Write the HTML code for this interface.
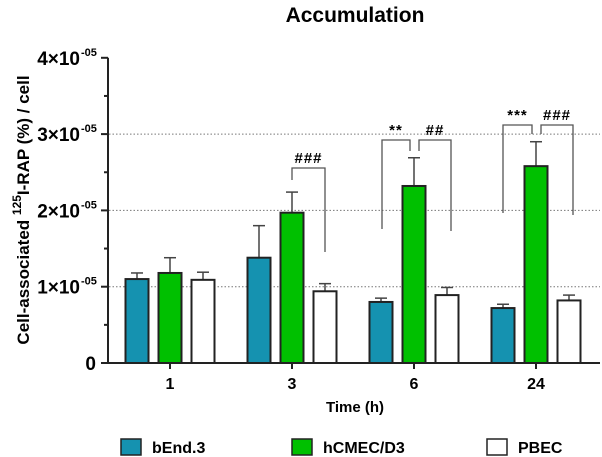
<!DOCTYPE html>
<html><head><meta charset="utf-8"><style>
body{margin:0;background:#fff;}
svg{display:block;font-family:"Liberation Sans",Arial,sans-serif;}
</style></head><body>
<svg id="c" width="602" height="457" viewBox="0 0 602 457"></svg>
<script>
const categories=["1","3","6","24"];
const seriesNames=["bEnd.3","hCMEC/D3","PBEC"];
const bEnd=[1.10,1.38,0.80,0.72];
const bEndErr=[0.08,0.42,0.05,0.05];
const hcmec=[1.18,1.97,2.32,2.58];
const hcmecErr=[0.20,0.27,0.37,0.32];
const pbec=[1.09,0.94,0.89,0.82];
const pbecErr=[0.10,0.10,0.10,0.07];
const yTicks=[0,1,2,3,4];
const yTickLabels=["0","1×10","2×10","3×10","4×10"];

const NS="http://www.w3.org/2000/svg";
const svg=document.getElementById('c');
function el(t,a,txt){const e=document.createElementNS(NS,t);for(const k in a)e.setAttribute(k,a[k]);if(txt!==undefined)e.textContent=txt;svg.appendChild(e);return e;}
const y0=363,yPer=76.3;
function ys(v){return y0-v*yPer;}
function xc(i){return 170+i*122;}
const offs=[-33,0,33],bw=23;
const colors=["#1592b0","#00c000","#ffffff"];
const data=[bEnd,hcmec,pbec],errs=[bEndErr,hcmecErr,pbecErr];

let t=el('text',{x:355,y:22,'text-anchor':'middle','font-size':21,'font-weight':'bold'},'Accumulation');


[1,2,3].forEach(v=>{const g=el('line',{x1:109,x2:600,y1:ys(v),y2:ys(v),stroke:'#777','stroke-width':1,'stroke-dasharray':'1.5,2'});
});

let ax=el('line',{x1:108,x2:108,y1:ys(4),y2:y0,stroke:'#222','stroke-width':2});

for(let v=0;v<=4;v+=0.5){const tk=el('line',{x1:v%1===0?101:104,x2:108,y1:ys(v),y2:ys(v),stroke:'#222','stroke-width':2});
}
yTicks.forEach((v,i)=>{
 const tx=el('text',{x:v===0?96:80,y:ys(v)+7,'text-anchor':'end','font-size':19,'font-weight':'bold'},yTickLabels[i]);
 
 if(v!==0){const s=el('text',{x:81,y:ys(v)-2,'font-size':11,'font-weight':'bold'},'-05');
 }
});
let yt=el('text',{transform:'translate(29,210) rotate(-90)','text-anchor':'middle','font-size':17,'font-weight':'bold'});

yt.innerHTML='Cell-associated <tspan dy="-8" font-size="12">125</tspan><tspan dy="8">I-RAP (%) / cell</tspan>';

let xa=el('line',{x1:107,x2:600,y1:y0,y2:y0,stroke:'#222','stroke-width':2});

categories.forEach((c,i)=>{
 const tk=el('line',{x1:xc(i),x2:xc(i),y1:y0,y2:y0+6,stroke:'#222','stroke-width':2});
 
 const tx=el('text',{x:xc(i),y:389,'text-anchor':'middle','font-size':16,'font-weight':'bold'},c);
 
});
let xt=el('text',{x:355,y:412,'text-anchor':'middle','font-size':15,'font-weight':'bold'},'Time (h)');


data.forEach((s,si)=>{s.forEach((v,i)=>{
 const x=xc(i)+offs[si];
 const e=el('line',{x1:x,x2:x,y1:ys(v),y2:ys(v+errs[si][i]),stroke:'#444','stroke-width':1.5});
 
 const cap=el('line',{x1:x-6,x2:x+6,y1:ys(v+errs[si][i]),y2:ys(v+errs[si][i]),stroke:'#444','stroke-width':1.5});
 
 const r=el('rect',{x:x-bw/2,y:ys(v),width:bw,height:y0-ys(v),fill:colors[si],stroke:'#222','stroke-width':2});
 
 
});});

function bracket(x1,yl1,x2,yl2,top,label,name){
 const p=el('path',{d:`M${x1},${yl1}V${top}H${x2}V${yl2}`,fill:'none',stroke:'#555','stroke-width':1.3});
 
 const tx=el('text',{x:(x1+x2)/2,y:top-5,'text-anchor':'middle','font-size':15,'font-weight':'bold','letter-spacing':'1'},label);
 
}
bracket(292,180,325,252,168,'###','sig-3h-pbec');
bracket(382,229,410,151,140,'**','sig-6h-bend');
bracket(419,151,451,231,140,'##','sig-6h-pbec');
bracket(503,213,532,134,125,'***','sig-24h-bend');
bracket(541,134,573,215,125,'###','sig-24h-pbec');

const lx=[121,292,487];
seriesNames.forEach((n,i)=>{
 const r=el('rect',{x:lx[i],y:439,width:20,height:16,fill:colors[i],stroke:'#222','stroke-width':1.5});
 
 const tx=el('text',{x:lx[i]+31,y:453,'font-size':16,'font-weight':'bold'},n);
 
});
</script>
</body></html>
